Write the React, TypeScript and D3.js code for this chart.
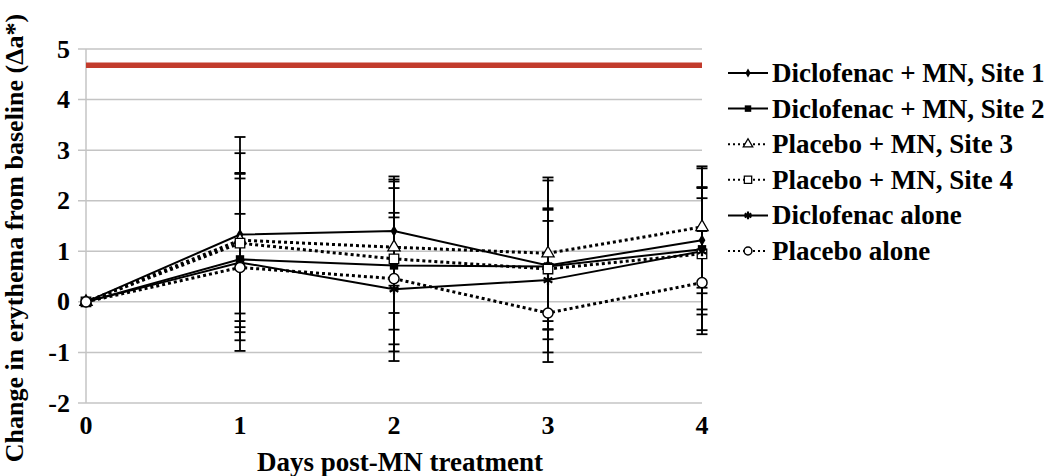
import React from "react";
import * as d3 from "d3";

const days = [0, 1, 2, 3, 4];
const yTicks = [-2, -1, 0, 1, 2, 3, 4, 5];
const thresholdValue = 4.68;

const site1 = [0, 1.33, 1.4, 0.72, 1.22];
const site1Sd = [0, 1.93, 1.08, 1.1, 1.05];
const site2 = [0, 0.84, 0.72, 0.7, 1.04];
const site2Sd = [0, 1.6, 1.7, 1.7, 1.6];
const site3 = [0, 1.22, 1.08, 0.96, 1.48];
const site3Sd = [0, 1.72, 1.3, 1.5, 1.2];
const site4 = [0, 1.16, 0.85, 0.65, 0.95];
const site4Sd = [0, 1.39, 1.4, 1.2, 1.1];
const dicloAlone = [0, 0.78, 0.25, 0.43, 1.0];
const dicloAloneSd = [0, 1.75, 1.42, 1.17, 1.25];
const placeboAlone = [0, 0.68, 0.46, -0.22, 0.38];
const placeboAloneSd = [0, 1.06, 1.3, 0.97, 1.02];

const seriesNames = [
  "Diclofenac + MN, Site 1",
  "Diclofenac + MN, Site 2",
  "Placebo + MN, Site 3",
  "Placebo + MN, Site 4",
  "Diclofenac alone",
  "Placebo alone",
];

type Marker = "diamond" | "fsquare" | "triangle" | "osquare" | "star" | "circle";

const series = [
  { name: seriesNames[0], values: site1, sd: site1Sd, dotted: false, marker: "diamond" as Marker },
  { name: seriesNames[1], values: site2, sd: site2Sd, dotted: false, marker: "fsquare" as Marker },
  { name: seriesNames[2], values: site3, sd: site3Sd, dotted: true, marker: "triangle" as Marker },
  { name: seriesNames[3], values: site4, sd: site4Sd, dotted: true, marker: "osquare" as Marker },
  { name: seriesNames[4], values: dicloAlone, sd: dicloAloneSd, dotted: false, marker: "star" as Marker },
  { name: seriesNames[5], values: placeboAlone, sd: placeboAloneSd, dotted: true, marker: "circle" as Marker },
];

const FONT =
  '"Liberation Serif", "Times New Roman", Times, Tinos, "Nimbus Roman", "Noto Serif", FreeSerif, "DejaVu Serif", serif';
const textStyle: React.CSSProperties = { fontFamily: FONT, fontWeight: 700 };

function MarkerShape({ type, cx, cy, scale = 1 }: { type: Marker; cx: number; cy: number; scale?: number }) {
  const t = `translate(${cx},${cy})`;
  switch (type) {
    case "diamond":
      return <path transform={t} d={d3.symbol().type(d3.symbolDiamond).size(40 * scale)()!} fill="#000" />;
    case "fsquare":
      return <path transform={t} d={d3.symbol().type(d3.symbolSquare).size(70 * scale)()!} fill="#000" />;
    case "triangle":
      return <path transform={t} d={d3.symbol().type(d3.symbolTriangle).size(65 * scale)()!} fill="#fff" stroke="#000" strokeWidth={1.3} />;
    case "osquare":
      return <path transform={t} d={d3.symbol().type(d3.symbolSquare).size(90 * scale)()!} fill="#fff" stroke="#000" strokeWidth={1.3} />;
    case "star":
      return <path transform={t} d={d3.symbol().type(d3.symbolAsterisk).size(70 * scale)()!} fill="none" stroke="#000" strokeWidth={2.2} />;
    case "circle":
      return <path transform={t} d={d3.symbol().type(d3.symbolCircle).size(80 * scale)()!} fill="#fff" stroke="#000" strokeWidth={1.5} />;
  }
}

export default function App() {
  const W = 1050;
  const H = 476;
  const x = d3.scaleLinear().domain([0, 4]).range([86, 702]);
  const y = d3.scaleLinear().domain([-2, 5]).range([403, 49]);
  const line = d3
    .line<number>()
    .x((_, i) => x(days[i]))
    .y((v) => y(v));

  const legendX = 728;
  const legendY0 = 73;
  const legendStep = 35.6;

  return (
    <svg width={W} height={H} style={{ position: "absolute", left: 0, top: 0, background: "#fff" }}>
      {/* gridlines */}
      {yTicks.map((t) => (
        <g key={t}>
          <line x1={78} x2={702} y1={y(t)} y2={y(t)} stroke="#c4c4c4" strokeWidth={1.5} />
          <text x={70} y={y(t)} textAnchor="end" dominantBaseline="central" fontSize={26} style={textStyle}>
            {t}
          </text>
        </g>
      ))}
      <line x1={86} x2={86} y1={49} y2={403} stroke="#c4c4c4" strokeWidth={1.5} />
      {days.map((d) => (
        <text key={d} x={x(d)} y={425} textAnchor="middle" dominantBaseline="central" fontSize={26} style={textStyle}>
          {d}
        </text>
      ))}
      {/* threshold line */}
      <line x1={x(0)} x2={x(4)} y1={y(thresholdValue)} y2={y(thresholdValue)} stroke="#c23b2c" strokeWidth={5.5} />
      {/* series lines */}
      {series.map((s) => (
        <path
          key={s.name}
          d={line(s.values)!}
          fill="none"
          stroke="#000"
          strokeWidth={s.dotted ? 3 : 2}
          strokeDasharray={s.dotted ? "3,3" : undefined}
        />
      ))}
      {/* error bars */}
      {series.map((s) =>
        s.values.map((v, i) =>
          s.sd[i] > 0 ? (
            <g key={s.name + i} stroke="#000" strokeWidth={1.8}>
              <line x1={x(days[i])} x2={x(days[i])} y1={y(v + s.sd[i])} y2={y(v - s.sd[i])} />
              <line x1={x(days[i]) - 5.5} x2={x(days[i]) + 5.5} y1={y(v + s.sd[i])} y2={y(v + s.sd[i])} />
              <line x1={x(days[i]) - 5.5} x2={x(days[i]) + 5.5} y1={y(v - s.sd[i])} y2={y(v - s.sd[i])} />
            </g>
          ) : null
        )
      )}
      {/* markers */}
      {series.map((s) =>
        s.values.map((v, i) => <MarkerShape key={s.name + "m" + i} type={s.marker} cx={x(days[i])} cy={y(v)} />)
      )}
      {/* legend */}
      {series.map((s, i) => {
        const ly = legendY0 + i * legendStep;
        return (
          <g key={"leg" + s.name}>
            <line
              x1={legendX}
              x2={legendX + 40}
              y1={ly}
              y2={ly}
              stroke="#000"
              strokeWidth={2}
              strokeDasharray={s.dotted ? "2,3" : undefined}
            />
            <MarkerShape type={s.marker} cx={legendX + 20} cy={ly} scale={0.6} />
            <text x={legendX + 44} y={ly} dominantBaseline="central" fontSize={27} style={textStyle}>
              {s.name}
            </text>
          </g>
        );
      })}
      {/* axis titles */}
      <text x={400} y={462} textAnchor="middle" dominantBaseline="central" fontSize={27} style={textStyle}>
        Days post-MN treatment
      </text>
      <text
        transform={`translate(14,238) rotate(-90)`}
        textAnchor="middle"
        dominantBaseline="central"
        fontSize={26}
        style={textStyle}
      >
        Change in erythema from baseline (Δa*)
      </text>
    </svg>
  );
}
